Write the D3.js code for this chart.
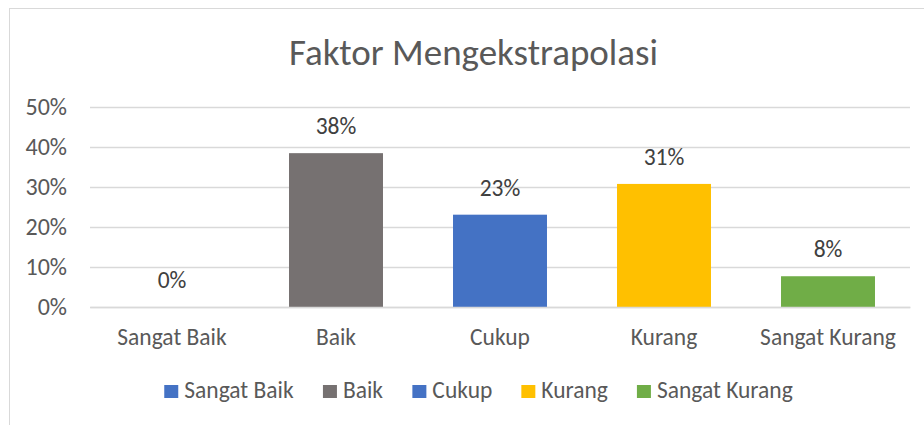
<!DOCTYPE html>
<html><head><meta charset="utf-8">
<script src="https://cdn.jsdelivr.net/npm/d3@7"></script>
<style>
html,body{margin:0;padding:0;background:#fff;}
svg{display:block;}
text{font-family:Carlito,Calibri,Lato,sans-serif;}
</style></head><body>
<svg id="chart" width="924" height="425"></svg>
<script>
const categories = ["Sangat Baik","Baik","Cukup","Kurang","Sangat Kurang"];
const values = [0, 38.46, 23.08, 30.77, 7.69];
const labels = ["0%","38%","23%","31%","8%"];
const colors = ["#4472C4","#767171","#4472C4","#FFC000","#70AD47"];
const yTicks = [0,10,20,30,40,50];
const title = "Faktor Mengekstrapolasi";
const FONT = "Carlito,Calibri,Lato,sans-serif";

const svg = d3.select("#chart");
svg.append("rect").attr("x",9.5).attr("y",8.5).attr("width",930).attr("height",430)
  .attr("fill","#fff").attr("stroke","#D9D9D9").attr("stroke-width",1);

const x = d3.scaleBand().domain(categories).range([90,910]).paddingInner(0.427).paddingOuter(0.2135);
const y = d3.scaleLinear().domain([0,50]).range([307,107]);

svg.append("g").selectAll("line").data(yTicks).join("line")
  .attr("x1",90).attr("x2",910).attr("y1",d=>y(d)+0.5).attr("y2",d=>y(d)+0.5)
  .attr("stroke","#D9D9D9").attr("stroke-width",1.3);

const yAxis = d3.axisLeft(y).tickValues(yTicks).tickFormat(d=>d+"%").tickSize(0).tickPadding(23);
const ga = svg.append("g").attr("transform","translate(90,0)").call(yAxis);
ga.select(".domain").remove();
ga.selectAll("text").attr("fill","#595959").style("font-size","24px").style("font-family",FONT);

svg.append("g").selectAll("rect").data(categories).join("rect")
  .attr("x",d=>x(d)).attr("width",x.bandwidth())
  .attr("y",(d,i)=>y(values[i])).attr("height",(d,i)=>y(0)-y(values[i]))
  .attr("fill",(d,i)=>colors[i]);

svg.append("g").selectAll("text").data(categories).join("text")
  .attr("x",d=>x(d)+x.bandwidth()/2).attr("y",(d,i)=>y(values[i])-19)
  .attr("text-anchor","middle").attr("fill","#404040").style("font-size","23.5px")
  .text((d,i)=>labels[i]);

const xAxis = d3.axisBottom(x).tickSize(0).tickPadding(21);
const gx = svg.append("g").attr("transform","translate(0,307)").call(xAxis);
gx.select(".domain").attr("stroke","#D9D9D9").attr("stroke-width",1.3);
gx.selectAll("text").attr("fill","#595959").style("font-size","23.5px").style("font-family",FONT);

svg.append("text").attr("x",473.5).attr("y",65).attr("text-anchor","middle")
  .attr("fill","#595959").style("font-size","37px").text(title);

const lg = svg.append("g");
const items = lg.selectAll("g").data(categories).join("g");
items.append("rect").attr("width",14).attr("height",13).attr("y",385).attr("fill",(d,i)=>colors[i]);
items.append("text").attr("x",20).attr("y",398).attr("fill","#595959").style("font-size","23.5px").text(d=>d);
const widths = [];
items.each(function(){ widths.push(this.getBBox().width); });
const gap = 29;
const total = d3.sum(widths) + gap*(widths.length-1);
let acc = 478.5 - total/2;
items.attr("transform",(d,i)=>{ const t=`translate(${acc},0)`; acc += widths[i]+gap; return t; });
</script>
</body></html>
